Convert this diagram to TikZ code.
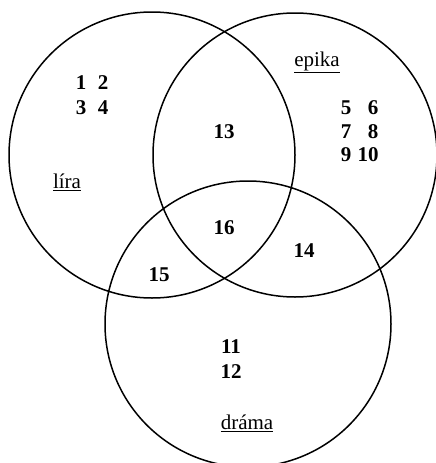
\documentclass[tikz,border=0pt]{standalone}
\usepackage{fontspec}
\setmainfont{Liberation Serif}
\begin{document}
\begin{tikzpicture}[x=1pt,y=-1pt,
  ring/.style={circle, draw, line width=1.5pt, inner sep=0pt, minimum size=#1},
  num/.style={font=\fontsize{21}{25}\selectfont\bfseries, inner sep=0pt},
  lbl/.style={font=\fontsize{21}{25}\selectfont, inner sep=0pt}]
\useasboundingbox (0,0) rectangle (436,463);
\node[ring=286pt] (lira) at (152,155) {};
\node[ring=284pt] (epika) at (295,155) {};
\node[ring=286pt] (drama) at (248,324) {};
\node[num] (n1) at (81,83) {1};
\node[num] (n2) at (103,83) {2};
\node[num] (n3) at (81,108) {3};
\node[num] (n4) at (103,108) {4};
\node[num] (n5) at (346,108) {5};
\node[num] (n6) at (373,108) {6};
\node[num] (n7) at (346,132) {7};
\node[num] (n8) at (373,132) {8};
\node[num] (n9) at (346,155) {9};
\node[num] (n10) at (368,155) {10};
\node[num] (n11) at (231,347) {11};
\node[num] (n12) at (231,372) {12};
\node[num] (n13) at (224,132) {13};
\node[num] (n14) at (304,251) {14};
\node[num] (n15) at (159,275) {15};
\node[num] (n16) at (224,228) {16};
\node[lbl] (tepika) at (317,62) {\underline{epika}};
\node[lbl] (tlira) at (67,182) {\underline{líra}};
\node[lbl] (tdrama) at (247,423) {\underline{dráma}};
\end{tikzpicture}
\end{document}
